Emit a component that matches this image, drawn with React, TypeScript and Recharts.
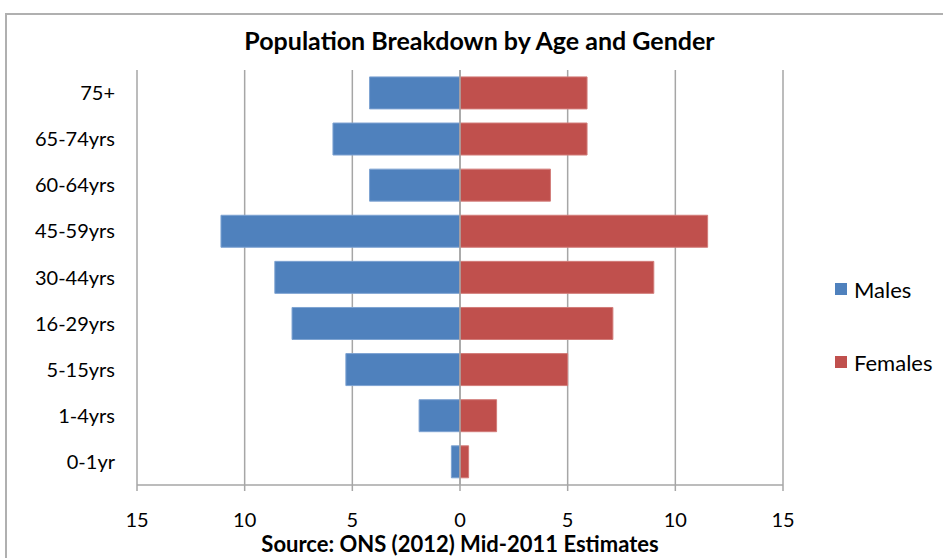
import React from 'react';
import { BarChart, Bar, XAxis, YAxis, CartesianGrid, ReferenceLine } from 'recharts';

const ageGroups = ['75+', '65-74yrs', '60-64yrs', '45-59yrs', '30-44yrs', '16-29yrs', '5-15yrs', '1-4yrs', '0-1yr'];
const males = [4.2, 5.9, 4.2, 11.1, 8.6, 7.8, 5.3, 1.9, 0.4];
const females = [5.9, 5.9, 4.2, 11.5, 9.0, 7.1, 5.0, 1.7, 0.4];
const xTicks = [-15, -10, -5, 0, 5, 10, 15];
const legendItems = ['Males', 'Females'];

const BLUE = '#4F81BD';
const RED = '#C0504D';
const GRID = '#a6a6a6';
const FONT = 'Lato, "Open Sans", sans-serif';

// males drawn to the left as negatives
const data = ageGroups.map((age, i) => ({ age, Males: -males[i], Females: females[i] }));

export default function App() {
  return (
    <div style={{ position: 'fixed', left: 0, top: 0, width: 943, height: 558, background: '#fff', overflow: 'hidden' }}>
      <div style={{ position: 'absolute', left: 5, top: 13, width: 960, height: 600, border: '2px solid #b0b0b0', boxSizing: 'border-box' }} />
      <div style={{ position: 'absolute', left: 0, top: 25, width: 943, textAlign: 'center', fontFamily: FONT, fontWeight: 700, fontSize: 25, lineHeight: '30px', paddingLeft: 16, boxSizing: 'border-box' }}>
        Population Breakdown by Age and Gender
      </div>
      <div style={{ position: 'absolute', left: 0, top: 0 }}>
        <BarChart
          width={943}
          height={558}
          data={data}
          layout="vertical"
          stackOffset="sign"
          barCategoryGap="15%"
          margin={{ top: 70, right: 160, bottom: 0, left: 0 }}
        >
          <CartesianGrid horizontal={false} stroke={GRID} strokeWidth={1.5} />
          <XAxis
            type="number"
            domain={[-15, 15]}
            ticks={xTicks}
            tickFormatter={(v: number) => String(Math.abs(v))}
            axisLine={{ stroke: GRID, strokeWidth: 1.5 }}
            tickLine={{ stroke: GRID, strokeWidth: 1.5 }}
            tickSize={6}
            tickMargin={22}
            height={73}
            tick={{ fill: '#000', fontSize: 20, fontFamily: FONT }}
            label={{ value: 'Source: ONS (2012) Mid-2011 Estimates', position: 'insideBottom', offset: 6, fill: '#000', fontSize: 22, fontWeight: 700, fontFamily: FONT }}
          />
          <YAxis
            type="category"
            dataKey="age"
            width={137}
            axisLine={false}
            tickLine={false}
            tickSize={0}
            tickMargin={22}
            tick={{ fill: '#000', fontSize: 20, fontFamily: FONT }}
          />
          <Bar dataKey="Males" stackId="pop" fill={BLUE} stroke="#7ea3d2" strokeWidth={1} isAnimationActive={false} />
          <Bar dataKey="Females" stackId="pop" fill={RED} stroke="#d27c79" strokeWidth={1} isAnimationActive={false} />
          <ReferenceLine x={0} stroke={GRID} strokeWidth={1.5} />
        </BarChart>
      </div>
      <div style={{ position: 'absolute', left: 835, top: 276, fontFamily: FONT, fontSize: 22, color: '#000' }}>
        {legendItems.map((name, i) => (
          <div key={name} style={{ display: 'flex', alignItems: 'center', height: 26, marginTop: i === 0 ? 0 : 47 }}>
            <span style={{ width: 12, height: 12, background: i === 0 ? BLUE : RED, display: 'inline-block', marginRight: 7 }} />
            <span>{name}</span>
          </div>
        ))}
      </div>
    </div>
  );
}
